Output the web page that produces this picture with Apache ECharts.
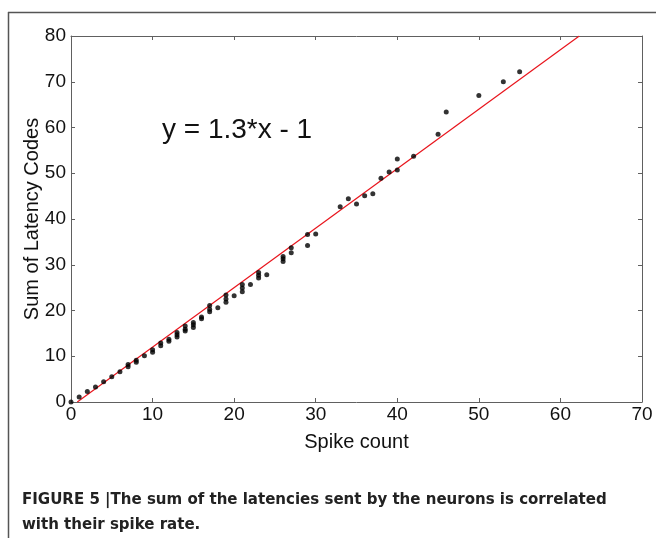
<!DOCTYPE html>
<html>
<head>
<meta charset="utf-8">
<script src="https://cdn.jsdelivr.net/npm/echarts@6/dist/echarts.min.js"></script>
<style>
  html, body { margin: 0; padding: 0; background: #fff; }
  #chart { width: 656px; height: 538px; }
</style>
</head>
<body>
<div id="chart"></div>
<script>
// Spike count of each neuron and the summed latency code it emitted
const spikeCounts = [
  0, 1, 2, 3, 4, 5, 6, 7, 7, 8, 8, 9, 10, 10,
  11, 11, 12, 12, 13, 13, 13, 14, 14, 14, 15, 15, 15,
  16, 16, 17, 17, 17, 18, 19, 19, 19, 20, 21, 21, 21, 22,
  23, 23, 23, 24, 26, 26, 26, 27, 27, 29, 29, 30,
  33, 34, 35, 36, 37, 38, 39, 40, 40, 42, 45, 46, 50, 53, 55
];
const latencySums = [
  0, 1.1, 2.3, 3.3, 4.4, 5.5, 6.6, 7.7, 8.2, 8.7, 9.1, 10.1, 10.9, 11.4,
  12.3, 12.9, 13.3, 13.7, 14.2, 14.7, 15.2, 15.5, 15.9, 16.6, 16.3, 16.9, 17.4,
  18.2, 18.6, 19.7, 20.3, 21.1, 20.6, 21.8, 22.5, 23.4, 23.2, 24.1, 24.9, 25.7, 25.7,
  27.1, 27.7, 28.3, 27.8, 30.7, 31.3, 31.8, 32.6, 33.7, 34.2, 36.6, 36.7,
  42.7, 44.4, 43.3, 45.1, 45.5, 48.9, 50.3, 50.7, 53.1, 53.7, 58.5, 63.4, 67.0, 70.0, 72.2
];

// Linear fit shown on the plot: y = 1.3*x - 1
const fitSlope = 1.3;
const fitIntercept = -1;
const xTicks = [0, 10, 20, 30, 40, 50, 60, 70];
const yTicks = [0, 10, 20, 30, 40, 50, 60, 70, 80];

const xMin = xTicks[0], xMax = xTicks[xTicks.length - 1];
const yMin = yTicks[0], yMax = yTicks[yTicks.length - 1];

const points = spikeCounts.map((x, i) => [x, latencySums[i]]);
// fit line drawn across the visible y range
const fitLine = [
  [(yMin - fitIntercept) / fitSlope, yMin],
  [(yMax - fitIntercept) / fitSlope, yMax]
];

const axisColor = '#606060';
const labelFont = 'Liberation Sans, Arial, Helvetica, sans-serif';
const captionFont = 'bold 16.7px "Liberation Sans Narrow", "DejaVu Sans Condensed", Arial, sans-serif';

const chart = echarts.init(document.getElementById('chart'), null, { renderer: 'canvas' });

const boxAxisX = (pos, show) => ({
  type: 'value', position: pos, min: xMin, max: xMax, interval: 10,
  axisLine: { show: true, onZero: false, lineStyle: { color: axisColor, width: 1 } },
  axisTick: { show: true, inside: true, length: 4, lineStyle: { color: axisColor } },
  axisLabel: show ? { show: true, color: '#111', fontSize: 19, fontFamily: labelFont, margin: 3 } : { show: false },
  splitLine: { show: false }
});
const boxAxisY = (pos, show) => ({
  type: 'value', position: pos, min: yMin, max: yMax, interval: 10,
  axisLine: { show: true, onZero: false, lineStyle: { color: axisColor, width: 1 } },
  axisTick: { show: true, inside: true, length: 4, lineStyle: { color: axisColor } },
  axisLabel: show ? { show: true, color: '#111', fontSize: 19, fontFamily: labelFont, margin: 5 } : { show: false },
  splitLine: { show: false }
});

const xBottom = Object.assign(boxAxisX('bottom', true), {
  name: 'Spike count', nameLocation: 'middle', nameGap: 30, nameMoveOverlap: false,
  nameTextStyle: { color: '#111', fontSize: 20, fontFamily: labelFont }
});
const yLeft = Object.assign(boxAxisY('left', true), {
  name: 'Sum of Latency Codes', nameLocation: 'middle', nameGap: 29, nameMoveOverlap: false,
  nameTextStyle: { color: '#111', fontSize: 20, fontFamily: labelFont }
});

chart.setOption({
  animation: false,
  backgroundColor: '#fff',
  grid: { left: 71, right: 14, top: 36, bottom: 136, containLabel: false },
  xAxis: [xBottom, boxAxisX('top', false)],
  yAxis: [yLeft, boxAxisY('right', false)],
  graphic: [
    // figure frame
    { type: 'line', shape: { x1: 8, y1: 12.5, x2: 656, y2: 12.5 }, style: { stroke: '#555', lineWidth: 1.5 } },
    { type: 'line', shape: { x1: 8.5, y1: 12, x2: 8.5, y2: 538 }, style: { stroke: '#555', lineWidth: 1.5 } },
    // fit equation
    { type: 'text', left: 162, top: 116,
      style: { text: 'y = 1.3*x - 1', fill: '#111', font: '28px Liberation Sans, Arial, sans-serif' } },
    // caption
    { type: 'text', left: 22, top: 491,
      style: { text: 'FIGURE 5 |The sum of the latencies sent by the neurons is correlated',
        fill: '#222', font: captionFont } },
    { type: 'text', left: 22, top: 516,
      style: { text: 'with their spike rate.', fill: '#222', font: captionFont } }
  ],
  series: [
    {
      type: 'line', data: fitLine, xAxisIndex: 0, yAxisIndex: 0,
      showSymbol: false, symbol: 'none', clip: true,
      lineStyle: { color: '#e8141c', width: 1.2 }, z: 2
    },
    {
      type: 'scatter', data: points, xAxisIndex: 0, yAxisIndex: 0,
      symbol: 'circle', symbolSize: 5, clip: false,
      itemStyle: { color: '#000' }, z: 3
    }
  ]
});
</script>
</body>
</html>
